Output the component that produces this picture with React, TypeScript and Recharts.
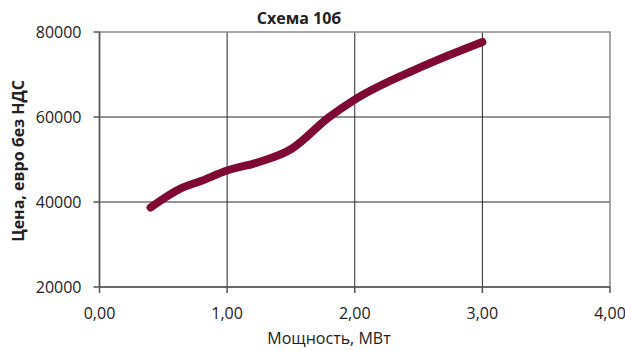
import React from 'react';
import {
  LineChart,
  Line,
  XAxis,
  YAxis,
  CartesianGrid,
  ReferenceArea
} from 'recharts';

// values
const powerMw = [0.4, 0.63, 0.8, 1.0, 1.25, 1.5, 1.8, 2.0, 2.5, 3.0];
const priceEur = [38700, 43100, 45000, 47400, 49400, 52400, 60000, 64100, 71500, 77650];
const xTicks = [0, 1, 2, 3, 4];
const yTicks = [20000, 40000, 60000, 80000];

const chartTitle = 'Схема 10б';
const xTitle = 'Мощность, МВт';
const yTitle = 'Цена, евро без НДС';

const data = powerMw.map((p, i) => ({ power: p, price: priceEur[i] }));

const FONT = '"Open Sans", sans-serif';
const TEXT = '#222';

const fmtX = (v: number) => v.toFixed(2).replace('.', ',');

export default function App() {
  return (
    <div style={{ position: 'absolute', left: 0, top: 0, width: 625, height: 350, background: '#fff' }}>
      <LineChart
        width={625}
        height={350}
        data={data}
        margin={{ top: 32, right: 15, bottom: 33, left: 0 }}
        style={{ fontFamily: FONT }}
      >
        <CartesianGrid
          stroke="#2a2a2a"
          strokeWidth={1}
          horizontalValues={[40000, 60000]}
          verticalValues={[1, 2, 3]}
        />
        <ReferenceArea
          x1={0}
          x2={4}
          y1={20000}
          y2={80000}
          fill="none"
          stroke="#8c8c8c"
          strokeWidth={1.5}
        />
        <XAxis
          dataKey="power"
          type="number"
          domain={[0, 4]}
          ticks={xTicks}
          interval={0}
          tickFormatter={fmtX}
          height={30}
          tickSize={6}
          tickMargin={15}
          stroke="#555"
          strokeWidth={1.5}
          tick={{ fill: TEXT, fontSize: 16, fontFamily: FONT }}
        />
        <YAxis
          type="number"
          domain={[20000, 80000]}
          ticks={yTicks}
          interval={0}
          width={99.5}
          tickSize={6}
          tickMargin={12}
          stroke="#555"
          strokeWidth={1.5}
          tick={{ fill: TEXT, fontSize: 16, fontFamily: FONT }}
        />
        <Line
          type="monotone"
          dataKey="price"
          stroke="#7e0a33"
          strokeWidth={8}
          strokeLinecap="round"
          strokeLinejoin="round"
          dot={false}
          activeDot={false}
          isAnimationActive={false}
        />
        <text x={299} y={24} textAnchor="middle" fill={TEXT} fontFamily={FONT} fontSize={16} fontWeight="bold">
          {chartTitle}
        </text>
        <text x={329} y={344} textAnchor="middle" fill={TEXT} fontFamily={FONT} fontSize={16}>
          {xTitle}
        </text>
        <text
          x={17.5}
          y={161}
          textAnchor="middle"
          dominantBaseline="central"
          transform="rotate(-90 17.5 161)"
          fill={TEXT}
          fontFamily={FONT}
          fontSize={16}
          fontWeight="bold"
        >
          {yTitle}
        </text>
      </LineChart>
    </div>
  );
}
